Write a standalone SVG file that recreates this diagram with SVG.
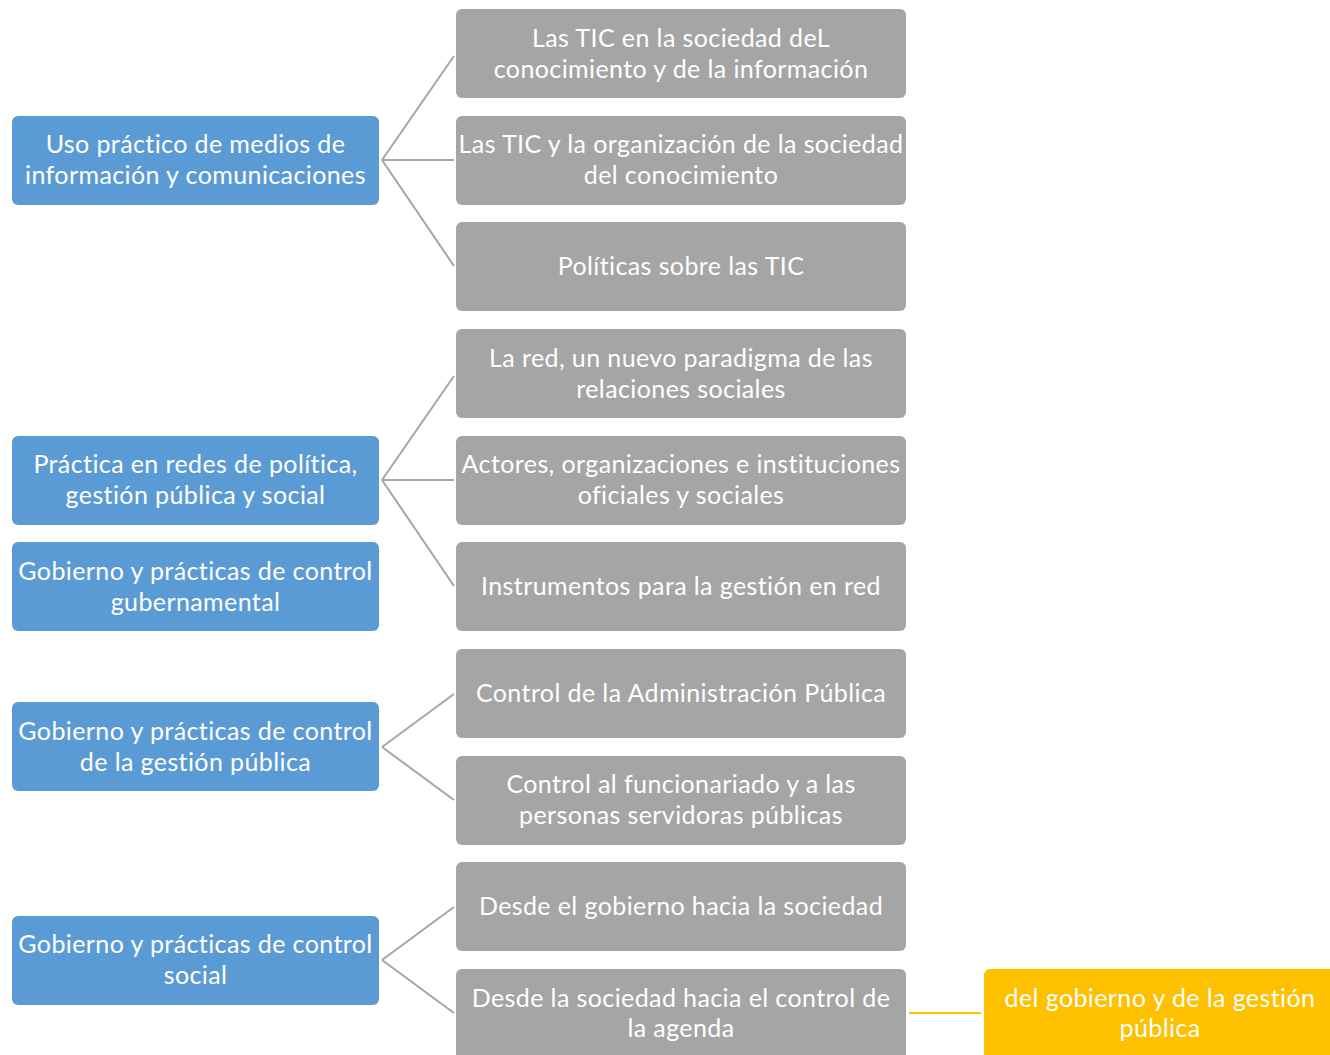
<svg xmlns="http://www.w3.org/2000/svg" width="1330" height="1055" viewBox="0 0 1330 1055">
<style>
.b{fill:#5b9bd5}
.g{fill:#a5a5a5}
.y{fill:#ffc000}
text{font-family:Lato,"Open Sans","Liberation Sans",sans-serif;font-size:25px;letter-spacing:0.4px;fill:#fff;text-anchor:middle}
.c{stroke:#a5a5a5;stroke-width:2;fill:none}
.cy{stroke:#ffc000;stroke-width:2;fill:none}
</style>
<rect width="1330" height="1055" fill="#fff"/>
<g id="connectors">
<path class="c" d="M382 160L454 56M382 160L454 160M382 160L454 266"/>
<path class="c" d="M382 480L454 376M382 480L454 480M382 480L454 586"/>
<path class="c" d="M382 747L454 694M382 747L454 800"/>
<path class="c" d="M382 960L454 907M382 960L454 1013"/>
<path class="cy" d="M909 1013L981 1013"/>
</g>
<g id="n1"><rect class="b" x="12" y="116" width="367" height="89" rx="6"/><text x="195.5" y="153">Uso práctico de medios de</text><text x="195.5" y="184">información y comunicaciones</text></g>
<g id="n2"><rect class="b" x="12" y="436" width="367" height="89" rx="6"/><text x="195.5" y="473">Práctica en redes de política,</text><text x="195.5" y="504">gestión pública y social</text></g>
<g id="n3"><rect class="b" x="12" y="542" width="367" height="89" rx="6"/><text x="195.5" y="580">Gobierno y prácticas de control</text><text x="195.5" y="611">gubernamental</text></g>
<g id="n4"><rect class="b" x="12" y="702" width="367" height="89" rx="6"/><text x="195.5" y="740">Gobierno y prácticas de control</text><text x="195.5" y="771">de la gestión pública</text></g>
<g id="n5"><rect class="b" x="12" y="916" width="367" height="89" rx="6"/><text x="195.5" y="953">Gobierno y prácticas de control</text><text x="195.5" y="984">social</text></g>
<g id="g1"><rect class="g" x="456" y="9" width="450" height="89" rx="6"/><text x="681" y="47">Las TIC en la sociedad deL</text><text x="681" y="78">conocimiento y de la información</text></g>
<g id="g2"><rect class="g" x="456" y="116" width="450" height="89" rx="6"/><text x="681" y="153">Las TIC y la organización de la sociedad</text><text x="681" y="184">del conocimiento</text></g>
<g id="g3"><rect class="g" x="456" y="222" width="450" height="89" rx="6"/><text x="681" y="275">Políticas sobre las TIC</text></g>
<g id="g4"><rect class="g" x="456" y="329" width="450" height="89" rx="6"/><text x="681" y="367">La red, un nuevo paradigma de las</text><text x="681" y="398">relaciones sociales</text></g>
<g id="g5"><rect class="g" x="456" y="436" width="450" height="89" rx="6"/><text x="681" y="473">Actores, organizaciones e instituciones</text><text x="681" y="504">oficiales y sociales</text></g>
<g id="g6"><rect class="g" x="456" y="542" width="450" height="89" rx="6"/><text x="681" y="595">Instrumentos para la gestión en red</text></g>
<g id="g7"><rect class="g" x="456" y="649" width="450" height="89" rx="6"/><text x="681" y="702">Control de la Administración Pública</text></g>
<g id="g8"><rect class="g" x="456" y="756" width="450" height="89" rx="6"/><text x="681" y="793">Control al funcionariado y a las</text><text x="681" y="824">personas servidoras públicas</text></g>
<g id="g9"><rect class="g" x="456" y="862" width="450" height="89" rx="6"/><text x="681" y="915">Desde el gobierno hacia la sociedad</text></g>
<g id="g10"><rect class="g" x="456" y="969" width="450" height="92" rx="6"/><text x="681" y="1007">Desde la sociedad hacia el control de</text><text x="681" y="1037">la agenda</text></g>
<g id="y1"><rect class="y" x="984" y="969" width="352" height="92" rx="6"/><text x="1160" y="1007">del gobierno y de la gestión</text><text x="1160" y="1037">pública</text></g>
</svg>
